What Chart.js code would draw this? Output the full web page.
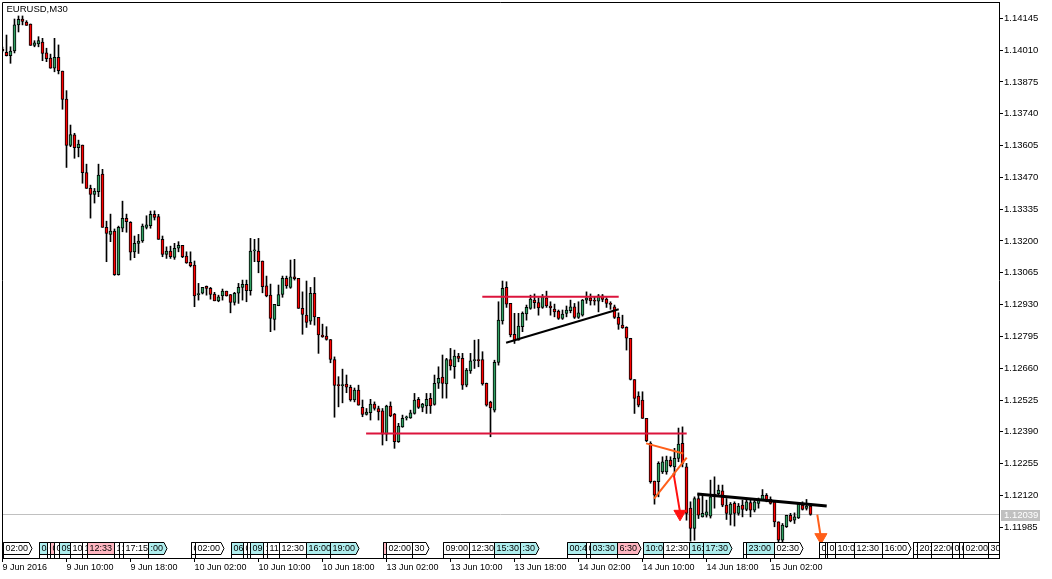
<!DOCTYPE html>
<html><head><meta charset="utf-8">
<script src="https://cdn.jsdelivr.net/npm/chart.js@4.4.1/dist/chart.umd.min.js"></script>
<style>html,body{margin:0;padding:0;background:#fff;overflow:hidden}canvas{display:block}</style>
</head><body>
<canvas id="c" width="1052" height="579"></canvas>
<script>
const symbolTitle = 'EURUSD,M30';
const barOpen = [
1.14013,1.14001,1.13986,1.14007,1.14117,1.14142,1.14129,1.14121,1.14030,1.14036,
1.14044,1.13999,1.13976,1.13933,1.13979,1.13921,1.13802,1.13606,1.13650,1.13596,
1.13607,1.13490,1.13423,1.13398,1.13409,1.13484,1.13258,1.13228,1.13242,1.13057,
1.13254,1.13296,1.13279,1.13154,1.13190,1.13200,1.13258,1.13265,1.13313,1.13303,
1.13207,1.13143,1.13157,1.13130,1.13169,1.13181,1.13136,1.13109,1.13098,1.12972,
1.12978,1.13007,1.12999,1.12975,1.12946,1.12967,1.12987,1.12973,1.12939,1.12978,
1.13003,1.13016,1.12989,1.13158,1.13157,1.13115,1.13010,1.12970,1.12867,1.12925,
1.12973,1.13041,1.13003,1.13048,1.13041,1.12914,1.12885,1.12860,1.12978,1.12876,
1.12801,1.12796,1.12782,1.12697,1.12588,1.12586,1.12593,1.12579,1.12525,1.12567,
1.12494,1.12464,1.12471,1.12508,1.12489,1.12479,1.12380,1.12499,1.12465,1.12348,
1.12411,1.12449,1.12449,1.12468,1.12528,1.12494,1.12500,1.12532,1.12506,1.12596,
1.12622,1.12593,1.12697,1.12666,1.12711,1.12702,1.12588,1.12649,1.12692,1.12693,
1.12697,1.12596,1.12516,1.12482,1.12685,1.12861,1.13003,1.12935,1.12804,1.12779,
1.12836,1.12890,1.12914,1.12949,1.12939,1.12918,1.12959,1.12924,1.12911,1.12902,
1.12871,1.12893,1.12904,1.12921,1.12876,1.12885,1.12949,1.12959,1.12946,1.12945,
1.12967,1.12953,1.12933,1.12921,1.12876,1.12843,1.12833,1.12787,1.12612,1.12542,
1.12525,1.12447,1.12341,1.12181,1.12178,1.12220,1.12220,1.12270,1.12241,1.12277,
1.12341,1.12241,1.12066,1.11980,1.12107,1.12029,1.12036,1.12032,1.12126,1.12128,
1.12140,1.12079,1.12039,1.12086,1.12044,1.12079,1.12061,1.12090,1.12058,1.12086,
1.12100,1.12121,1.12103,1.12093,1.12008,1.11930,1.11987,1.12036,1.12015,1.12025,
1.12079,1.12065,1.12075];
const barHigh = [
1.14023,1.14074,1.14024,1.14142,1.14155,1.14155,1.14135,1.14121,1.14050,1.14067,
1.14060,1.14018,1.13993,1.14060,1.14032,1.13921,1.13838,1.13692,1.13657,1.13628,
1.13607,1.13526,1.13437,1.13423,1.13526,1.13504,1.13284,1.13314,1.13251,1.13263,
1.13369,1.13314,1.13282,1.13221,1.13228,1.13272,1.13307,1.13327,1.13328,1.13313,
1.13221,1.13175,1.13178,1.13190,1.13197,1.13181,1.13154,1.13154,1.13115,1.13020,
1.13003,1.13009,1.13003,1.12982,1.12970,1.12996,1.12987,1.12973,1.12982,1.13020,
1.13034,1.13034,1.13211,1.13207,1.13211,1.13115,1.13051,1.13017,1.12931,1.13013,
1.13051,1.13051,1.13119,1.13122,1.13041,1.12984,1.13030,1.13003,1.13045,1.12876,
1.12847,1.12836,1.12782,1.12708,1.12624,1.12656,1.12631,1.12588,1.12576,1.12588,
1.12525,1.12489,1.12528,1.12517,1.12499,1.12489,1.12503,1.12517,1.12468,1.12426,
1.12461,1.12457,1.12482,1.12553,1.12536,1.12511,1.12553,1.12553,1.12631,1.12666,
1.12716,1.12702,1.12744,1.12737,1.12723,1.12723,1.12659,1.12723,1.12779,1.12782,
1.12730,1.12597,1.12520,1.12694,1.12942,1.13030,1.13027,1.12935,1.12893,1.12893,
1.12899,1.12928,1.12970,1.12975,1.12959,1.12973,1.12987,1.12942,1.12932,1.12907,
1.12907,1.12924,1.12949,1.12935,1.12942,1.12952,1.12984,1.12975,1.12963,1.12973,
1.12973,1.12959,1.12942,1.12928,1.12895,1.12885,1.12836,1.12787,1.12612,1.12560,
1.12560,1.12447,1.12348,1.12181,1.12263,1.12284,1.12287,1.12284,1.12320,1.12406,
1.12411,1.12256,1.12093,1.12114,1.12128,1.12121,1.12100,1.12185,1.12199,1.12164,
1.12164,1.12107,1.12090,1.12093,1.12086,1.12100,1.12100,1.12103,1.12100,1.12109,
1.12145,1.12128,1.12114,1.12093,1.12008,1.12001,1.12036,1.12044,1.12046,1.12086,
1.12093,1.12103,1.12086];
const barLow = [
1.14002,1.13985,1.13954,1.13998,1.14087,1.14117,1.14115,1.14030,1.14024,1.14024,
1.13965,1.13961,1.13933,1.13918,1.13909,1.13759,1.13512,1.13600,1.13551,1.13557,
1.13445,1.13423,1.13297,1.13361,1.13388,1.13258,1.13112,1.13197,1.13054,1.13055,
1.13239,1.13237,1.13119,1.13129,1.13147,1.13194,1.13251,1.13254,1.13289,1.13207,
1.13133,1.13126,1.13126,1.13122,1.13154,1.13129,1.13105,1.13090,1.12921,1.12949,
1.12975,1.12970,1.12953,1.12946,1.12942,1.12949,1.12966,1.12895,1.12928,1.12935,
1.12949,1.12942,1.12970,1.13112,1.13065,1.12980,1.12963,1.12815,1.12822,1.12925,
1.12961,1.12999,1.12999,1.13034,1.12914,1.12804,1.12833,1.12846,1.12843,1.12723,
1.12791,1.12779,1.12683,1.12452,1.12496,1.12513,1.12556,1.12520,1.12517,1.12503,
1.12454,1.12461,1.12440,1.12482,1.12440,1.12334,1.12352,1.12454,1.12320,1.12345,
1.12409,1.12440,1.12447,1.12465,1.12489,1.12475,1.12468,1.12468,1.12503,1.12574,
1.12533,1.12533,1.12652,1.12617,1.12687,1.12570,1.12581,1.12638,1.12659,1.12666,
1.12588,1.12499,1.12369,1.12474,1.12673,1.12847,1.12918,1.12793,1.12765,1.12779,
1.12815,1.12864,1.12910,1.12914,1.12885,1.12914,1.12918,1.12885,1.12878,1.12867,
1.12867,1.12878,1.12895,1.12871,1.12871,1.12881,1.12935,1.12928,1.12928,1.12899,
1.12942,1.12918,1.12910,1.12871,1.12825,1.12829,1.12737,1.12610,1.12468,1.12496,
1.12447,1.12348,1.12172,1.12083,1.12114,1.12213,1.12210,1.12241,1.12206,1.12263,
1.12241,1.12015,1.11926,1.11930,1.12022,1.12028,1.12028,1.12024,1.12066,1.12121,
1.12072,1.12018,1.11994,1.11990,1.12036,1.12029,1.12055,1.12029,1.12050,1.12066,
1.12100,1.12093,1.12083,1.11987,1.11923,1.11923,1.11984,1.12008,1.12001,1.12022,
1.12058,1.12058,1.12036];
const barClose = [
1.14008,1.13986,1.14006,1.14117,1.14141,1.14132,1.14115,1.14030,1.14041,1.14050,
1.13996,1.13974,1.13933,1.13979,1.13923,1.13801,1.13606,1.13651,1.13596,1.13611,
1.13490,1.13423,1.13398,1.13412,1.13480,1.13258,1.13232,1.13242,1.13057,1.13258,
1.13296,1.13282,1.13152,1.13190,1.13200,1.13263,1.13268,1.13313,1.13300,1.13207,
1.13143,1.13157,1.13133,1.13169,1.13181,1.13133,1.13107,1.13095,1.12967,1.12974,
1.13003,1.12999,1.12973,1.12946,1.12963,1.12987,1.12967,1.12939,1.12978,1.13003,
1.13016,1.12989,1.13157,1.13160,1.13112,1.13006,1.12967,1.12871,1.12931,1.12973,
1.13041,1.13009,1.13048,1.13040,1.12914,1.12888,1.12854,1.12978,1.12878,1.12801,
1.12793,1.12782,1.12697,1.12587,1.12586,1.12588,1.12579,1.12525,1.12567,1.12503,
1.12464,1.12474,1.12508,1.12489,1.12475,1.12380,1.12499,1.12457,1.12348,1.12414,
1.12447,1.12451,1.12471,1.12525,1.12494,1.12508,1.12528,1.12500,1.12596,1.12617,
1.12595,1.12697,1.12670,1.12711,1.12702,1.12588,1.12652,1.12691,1.12693,1.12692,
1.12593,1.12503,1.12491,1.12685,1.12864,1.12999,1.12932,1.12801,1.12776,1.12839,
1.12893,1.12918,1.12953,1.12938,1.12916,1.12963,1.12924,1.12916,1.12899,1.12871,
1.12890,1.12907,1.12921,1.12876,1.12895,1.12949,1.12959,1.12946,1.12944,1.12967,
1.12952,1.12935,1.12931,1.12876,1.12846,1.12831,1.12787,1.12612,1.12532,1.12503,
1.12447,1.12352,1.12178,1.12121,1.12256,1.12263,1.12270,1.12246,1.12277,1.12338,
1.12256,1.12044,1.11980,1.12107,1.12036,1.12044,1.12050,1.12114,1.12115,1.12143,
1.12079,1.12044,1.12083,1.12044,1.12075,1.12061,1.12093,1.12058,1.12093,1.12104,
1.12121,1.12100,1.12086,1.12008,1.11930,1.11994,1.12036,1.12012,1.12029,1.12083,
1.12061,1.12075,1.12039];

const yTickValues = [1.14145,1.14010,1.13875,1.13740,1.13605,1.13470,1.13335,1.13200,1.13065,1.12930,1.12795,1.12660,1.12525,1.12390,1.12255,1.12120,1.11985];
const xTickBars = [0,16,32,48,64,80,96,112,128,144,160,176,192];
const xTickLabels = ['9 Jun 2016','9 Jun 10:00','9 Jun 18:00','10 Jun 02:00','10 Jun 10:00','10 Jun 18:00','13 Jun 02:00','13 Jun 10:00','13 Jun 18:00','14 Jun 02:00','14 Jun 10:00','14 Jun 18:00','15 Jun 02:00'];
const currentPrice = 1.12039;

// drawn objects: [barFrom, priceFrom, barTo, priceTo]
const levelLines = [[119.95,1.12963,154.05,1.12963],[90.9,1.12383,171.05,1.12383]];
const trendLines = [[125.9,1.12768,154.05,1.12910]];
const trendLinesBold = [[173.7,1.12126,206.05,1.12075]];
const orangeLines = [[160.9,1.12341,170.2,1.12298],[162.9,1.12107,171.05,1.12281]];
const redArrow = [[167.75,1.12215,169.375,1.12049]];
const redArrowHead = [[169.375,1.12042]];
const orangeArrow = [[203.7,1.12039,204.5,1.11951]];
const orangeArrowHead = [[204.6,1.11943]];

// calendar event markers along the bottom
const eventBars = [0,9,11,11.9,12.9,14,16.9,19.8,21,27.9,29,30,36.45,47,48,57,60,61,61.9,65.1,66,69,75.9,81.9,95,95.9,102.3,110,116.7,122.9,129.4,141,145.9,146.9,153.55,160,165,171.7,175,185.2,185.9,192.9,204,205.6,206.2,208,212.9,219.8,227.6,228.7,232,237.45,239.2,240,246.45];
const eventTexts = ['02:00','04:30','05:00','05:30','06:00','09:00','10:00','11:00','12:33','14:00','15:00','17:15',':00','01:00','02:00','06:00','07:30','08:00','09:00','10:30','11:00','12:30','16:00','19:00','01:30','02:00','30','09:00','12:30','15:30',':30','00:45','02:00','03:30','6:30','10:00','12:30','16:00','17:30','22:00','23:00','02:30','05:00','05:30','06:00','10:00','12:30','16:00','19:00','20:00','22:00','00:00','01:00','02:00','30'];
const eventKinds = ['w','c','w','p','w','c','w','w','p','w','w','w','c','w','w','c','w','w','c','w','w','w','c','c','p','w','w','w','w','c','c','c','w','c','p','c','w','c','c','w','c','w','w','w','w','w','w','w','w','w','w','w','w','w','w'];

const UP = '#31A062', DOWN = '#FF0000';
const kindColor = {w:'#FFFFFF', c:'#AFEEEE', p:'#FFB6C1'};
const FONT = '"Liberation Sans", Arial, sans-serif';

const seg = (arr) => arr.map(s => [{x:s[0], y:s[1]}, {x:s[2], y:s[3]}]);
const lineDs = (pts, color, w) => ({type:'line', data:pts, borderColor:color, borderWidth:w, pointRadius:0, fill:false, tension:0, order:1});

const idx = barOpen.map((_, i) => i);
const datasets = [];
datasets.push({type:'line', data:[{x:-0.125,y:currentPrice},{x:249.125,y:currentPrice}], borderColor:'#C0C0C0', borderWidth:1, pointRadius:0, order:10});
datasets.push({type:'bar', data: idx.map(i => ({x:i, y:[barLow[i], barHigh[i]]})), backgroundColor:'#000', borderWidth:0, barThickness:1, grouped:false, order:5});
datasets.push({type:'bar', data: idx.map(i => ({x:i, y:[barOpen[i], barClose[i]]})),
  backgroundColor: idx.map(i => barClose[i] >= barOpen[i] ? UP : DOWN),
  borderColor:'#000', borderWidth:1, borderSkipped:false, barThickness:3, minBarLength:1, grouped:false, order:4});
seg(levelLines).forEach(p => datasets.push(lineDs(p, '#DC143C', 2)));
seg(trendLines).forEach(p => datasets.push(lineDs(p, '#000000', 2)));
seg(trendLinesBold).forEach(p => datasets.push(lineDs(p, '#000000', 3)));
seg(orangeLines).forEach(p => datasets.push(lineDs(p, '#FF5F1A', 2)));
seg(redArrow).forEach(p => datasets.push(lineDs(p, '#FF1010', 2)));
seg(orangeArrow).forEach(p => datasets.push(lineDs(p, '#FF5F1A', 2)));
const headDs = (arr, color) => ({type:'line', data: arr.map(a => ({x:a[0], y:a[1]})), showLine:false, pointStyle:'triangle', pointRotation:180, pointRadius:7, pointBackgroundColor:color, pointBorderColor:color, pointBorderWidth:1, order:0});
datasets.push(headDs(redArrowHead, '#FF1010'));
datasets.push(headDs(orangeArrowHead, '#FF5F1A'));

const overlay = {
  id: 'mtOverlay',
  afterDatasetsDraw(chart) {
    const {ctx, chartArea: a, scales: {x}} = chart;
    ctx.save();
    ctx.beginPath(); ctx.rect(a.left, a.top, a.right - a.left, a.bottom - a.top); ctx.clip();
    ctx.font = '9px ' + FONT;
    ctx.textBaseline = 'middle';
    const B = Math.round(a.bottom);
    const top = B - 15.5, bot = B - 3.5, mid = (top + bot) / 2;
    for (let k = 0; k < eventBars.length; k++) {
      const x0 = Math.round(x.getPixelForValue(eventBars[k])) + 0.5;
      const nx = k + 1 < eventBars.length ? Math.round(x.getPixelForValue(eventBars[k + 1])) + 0.5 : 1e9;
      const tw = ctx.measureText(eventTexts[k]).width;
      let right = Math.round(x0 + tw + 3);
      let arrow = true;
      if (right + 3 > nx) { right = nx; arrow = false; }
      ctx.beginPath();
      ctx.moveTo(x0, top); ctx.lineTo(right, top);
      if (arrow) { ctx.lineTo(right + 3, mid); }
      ctx.lineTo(right, bot); ctx.lineTo(x0, bot); ctx.closePath();
      ctx.fillStyle = kindColor[eventKinds[k]]; ctx.fill();
      ctx.strokeStyle = '#000'; ctx.lineWidth = 1; ctx.stroke();
      ctx.beginPath(); ctx.moveTo(x0, top); ctx.lineTo(x0, B); ctx.stroke();
      ctx.save();
      ctx.beginPath(); ctx.rect(x0 + 0.5, top + 0.5, Math.max(0, right - x0 - 1), bot - top - 1); ctx.clip();
      ctx.fillStyle = '#000'; ctx.fillText(eventTexts[k], x0 + 2, mid + 0.5);
      ctx.restore();
    }
    ctx.restore();
  },
  afterDraw(chart) {
    const {ctx, chartArea: a, scales: {y}} = chart;
    ctx.save();
    ctx.strokeStyle = '#000'; ctx.lineWidth = 1;
    ctx.beginPath();
    ctx.moveTo(2.5, a.bottom); ctx.lineTo(2.5, 2.5); ctx.lineTo(a.right, 2.5);
    ctx.stroke();
    ctx.fillStyle = '#000'; ctx.font = '9.5px ' + FONT; ctx.textBaseline = 'top';
    ctx.fillText(symbolTitle, 6.5, 4.5);
    const py = Math.round(y.getPixelForValue(currentPrice));
    ctx.fillStyle = '#C0C0C0';
    ctx.fillRect(a.right + 2, py - 5, 39, 11);
    ctx.fillStyle = '#FFFFFF'; ctx.textBaseline = 'middle';
    ctx.fillText(currentPrice.toFixed(5), a.right + 5, py + 0.5);
    ctx.restore();
  }
};

new Chart(document.getElementById('c'), {
  type: 'bar',
  data: { datasets },
  plugins: [overlay],
  options: {
    responsive: false, animation: false, devicePixelRatio: 1, events: [],
    layout: { autoPadding: false, padding: { left: 2, top: 2, right: 0, bottom: 0 } },
    plugins: { legend: { display: false }, tooltip: { enabled: false }, title: { display: false } },
    scales: {
      x: {
        type: 'linear', position: 'bottom', min: -0.125, max: 249.125, offset: false,
        grid: { display: true, drawOnChartArea: false, drawTicks: true, tickLength: 4, color: '#000', offset: false },
        border: { display: true, color: '#000', width: 1 },
        afterBuildTicks: s => { s.ticks = xTickBars.map(v => ({ value: v })); },
        afterFit: s => { s.height = 21; s.paddingLeft = 0; s.paddingRight = 0; },
        ticks: { autoSkip: false, maxRotation: 0, minRotation: 0, align: 'start', padding: 0, color: '#000',
          font: { family: FONT, size: 9 }, callback: (v, i) => xTickLabels[i] }
      },
      y: {
        type: 'linear', position: 'right', min: 1.118545, max: 1.142142, beginAtZero: false,
        grid: { display: true, drawOnChartArea: false, drawTicks: true, tickLength: 4, color: '#000' },
        border: { display: true, color: '#000', width: 1 },
        afterBuildTicks: s => { s.ticks = yTickValues.map(v => ({ value: v })); },
        afterFit: s => { s.width = 53; s.paddingTop = 0; s.paddingBottom = 0; },
        ticks: { autoSkip: false, padding: 1, color: '#000', font: { family: FONT, size: 9.5 },
          callback: v => Number(v).toFixed(5) }
      }
    }
  }
});
</script>
</body></html>
